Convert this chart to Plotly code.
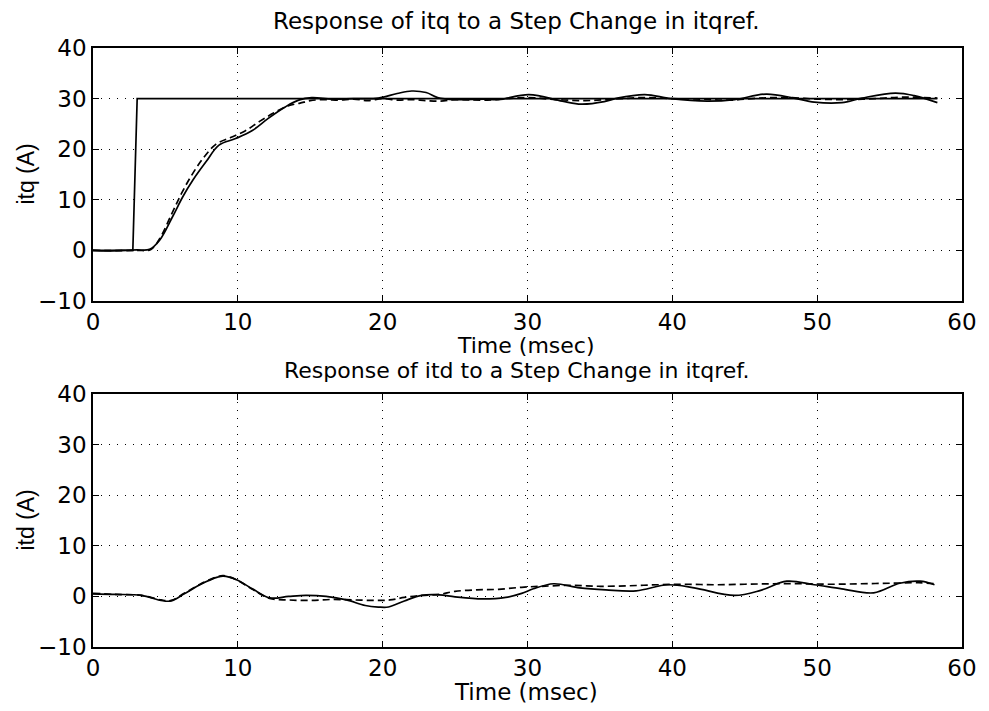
import plotly.graph_objects as go
from plotly.subplots import make_subplots

# ---- data ----
ref_t = [0, 2.75, 3.05, 58.3]
ref_itq = [0, 0, 30, 30]

itq_meas_t = [0, 1, 2, 3, 3.9, 4.6, 5.5, 6.2, 6.9, 7.8, 8.7, 9.85, 11.0, 12.1, 13.3, 14.2,
              15.1, 16.5, 18, 19.7, 21, 22.0, 23, 23.8, 25, 27, 28, 30.1, 32.4, 33.7, 35.3,
              36.2, 38.1, 39.9, 42.4, 44.3, 46.5, 48.4, 49.8, 51.7, 53.1, 55.4, 56.7, 58.3]
itq_meas = [0, -0.1, 0, 0.1, 0.2, 2.0, 6.7, 10.6, 13.9, 17.5, 20.8, 22.1, 23.7, 26.1, 28.4, 29.7,
            30.2, 29.9, 30.0, 30.1, 31.0, 31.5, 31.2, 30.2, 29.8, 29.9, 29.8, 30.8, 29.5, 28.9, 29.4,
            30.1, 30.8, 30.0, 29.5, 29.8, 30.9, 30.1, 29.3, 29.2, 30.1, 31.1, 30.6, 29.2]

itq_sim_t = [0, 3, 4.0, 4.6, 5.4, 6.1, 6.8, 7.6, 8.5, 9.5, 10.5, 11.5, 12.5, 13.5, 14.3, 15,
             16, 17, 18, 19, 20, 21, 22, 23, 24, 25, 27, 30, 32, 34, 36, 38, 40, 42, 44, 46,
             48, 50, 52, 54, 56, 58.3]
itq_sim = [0, 0, 0.2, 2.3, 7.0, 11.2, 14.8, 18.2, 21.0, 22.3, 23.6, 25.5, 27.2, 28.6, 29.1, 29.6,
           29.8, 29.7, 29.9, 29.6, 30.0, 29.7, 29.8, 29.6, 29.5, 29.8, 29.7, 30.2, 29.8, 29.6, 29.9,
           30.2, 30.0, 29.9, 29.7, 30.1, 30.2, 29.9, 29.8, 30.0, 30.3, 30.1]

itd_meas_t = [0, 1.5, 3.35, 4.7, 5.4, 6.3, 7.45, 8.6, 9.0, 9.9, 11.0, 12.2, 13.5, 14.7, 16.1,
              17.5, 18.8, 19.7, 20.4, 21.5, 22.7, 23.9, 25.0, 26.9, 28.5, 29.6, 30.4, 31.8,
              33.6, 35.4, 37.5, 39.7, 41.5, 44.3, 46.1, 47.9, 49.8, 51.7, 53.9, 55.7, 57.1, 58.1]
itd_meas = [0.5, 0.4, 0.2, -0.8, -0.9, 0.5, 2.4, 3.8, 4.0, 3.3, 1.5, -0.3, 0, 0.2, 0,
            -0.7, -1.8, -2.1, -2.1, -0.9, 0.2, 0.3, -0.1, -0.5, -0.2, 0.6, 1.5, 2.5,
            1.7, 1.3, 1.1, 2.3, 1.7, 0.2, 1.2, 3.0, 2.3, 1.5, 0.7, 2.6, 3.0, 2.3]

itd_sim_t = [0, 1.5, 3.35, 4.7, 5.4, 6.3, 7.45, 8.6, 9.0, 9.9, 11.0, 12.2, 13.5, 15, 16.5, 18,
             19.5, 20.5, 21.5, 22.7, 23.9, 25.0, 26.5, 28, 29.6, 31, 33, 35, 37, 39, 41, 43,
             45, 47, 49, 51, 53, 55, 57, 58.1]
itd_sim = [0.6, 0.4, 0.2, -0.7, -0.8, 0.6, 2.5, 3.9, 4.1, 3.3, 1.4, -0.4, -0.7, -0.8, -0.6, -0.7,
           -0.8, -0.7, -0.2, 0.2, 0.4, 1.0, 1.3, 1.4, 1.8, 2.0, 2.2, 2.0, 2.1, 2.3, 2.4, 2.3,
           2.4, 2.5, 2.5, 2.4, 2.5, 2.6, 2.7, 2.5]

x_ticks = [0, 10, 20, 30, 40, 50, 60]
y_ticks = [-10, 0, 10, 20, 30, 40]

titles = ["Response of itq to a Step Change in itqref.",
          "Response of itd to a Step Change in itqref."]
x_title = "Time (msec)"
y_titles = ["itq (A)", "itd (A)"]

# ---- figure ----
W, H = 989, 711
L, R, T, B = 93, 19, 48, 64
ph = H - T - B

def py(Y):
    return (H - B - Y) / ph

def px(X):
    return (X - L) / (W - L - R)

fig = make_subplots(rows=2, cols=1)

line_solid = dict(color="black", width=1.7)
line_dash = dict(color="black", width=1.7, dash="7px,4px")

fig.add_trace(go.Scatter(x=ref_t, y=ref_itq, mode="lines", line=line_solid), row=1, col=1)
fig.add_trace(go.Scatter(x=itq_meas_t, y=itq_meas, mode="lines", line=line_solid,
                         line_shape="spline"), row=1, col=1)
fig.add_trace(go.Scatter(x=itq_sim_t, y=itq_sim, mode="lines", line=line_dash,
                         line_shape="spline"), row=1, col=1)
fig.add_trace(go.Scatter(x=itd_meas_t, y=itd_meas, mode="lines", line=line_solid,
                         line_shape="spline"), row=2, col=1)
fig.add_trace(go.Scatter(x=itd_sim_t, y=itd_sim, mode="lines", line=line_dash,
                         line_shape="spline"), row=2, col=1)

font = dict(family="DejaVu Sans, Liberation Sans, Arial, sans-serif", size=23, color="black")
font_mid = dict(family="DejaVu Sans, Liberation Sans, Arial, sans-serif", size=22, color="black")
font_y = dict(family="Liberation Sans, Arial, sans-serif", size=23, color="black")

axis_common = dict(
    showline=True, linecolor="black", linewidth=1.5, mirror="allticks",
    ticks="inside", ticklen=6, tickcolor="black", tickwidth=1.2,
    showgrid=True, gridcolor="black", gridwidth=1, griddash="1px,7px",
    zeroline=False, tickfont=font,
)

fig.update_xaxes(range=[0, 60], tickvals=x_ticks, **axis_common)
fig.update_yaxes(range=[-10, 40], tickvals=y_ticks, **axis_common)

fig.update_layout(
    xaxis=dict(domain=[0, 1]),
    yaxis=dict(domain=[py(301), 1.0]),
    xaxis2=dict(domain=[0, 1]),
    yaxis2=dict(domain=[0.0, py(394)]),
)

ann = []
ann.append(dict(text=titles[0], x=px(520), y=py(21), font=font))
ann.append(dict(text=x_title, x=px(530), y=py(345), font=font_mid))
ann.append(dict(text=titles[1], x=px(520), y=py(370), font=font_mid))
ann.append(dict(text=x_title, x=px(530), y=py(692), font=font))
ann.append(dict(text=y_titles[0], x=px(25), y=py(174), textangle=-90, font=font_y))
ann.append(dict(text=y_titles[1], x=px(25), y=py(520), textangle=-90, font=font_y))
for a in ann:
    a.update(xref="paper", yref="paper", showarrow=False,
             xanchor="center", yanchor="middle")

fig.update_layout(
    width=W, height=H,
    margin=dict(l=L, r=R, t=T, b=B),
    paper_bgcolor="white", plot_bgcolor="white",
    showlegend=False,
    annotations=ann,
    font=font,
)

fig.write_html("out.html",
               config={"displayModeBar": False},
               post_script="document.body.style.margin='0';document.body.style.overflow='hidden';")
